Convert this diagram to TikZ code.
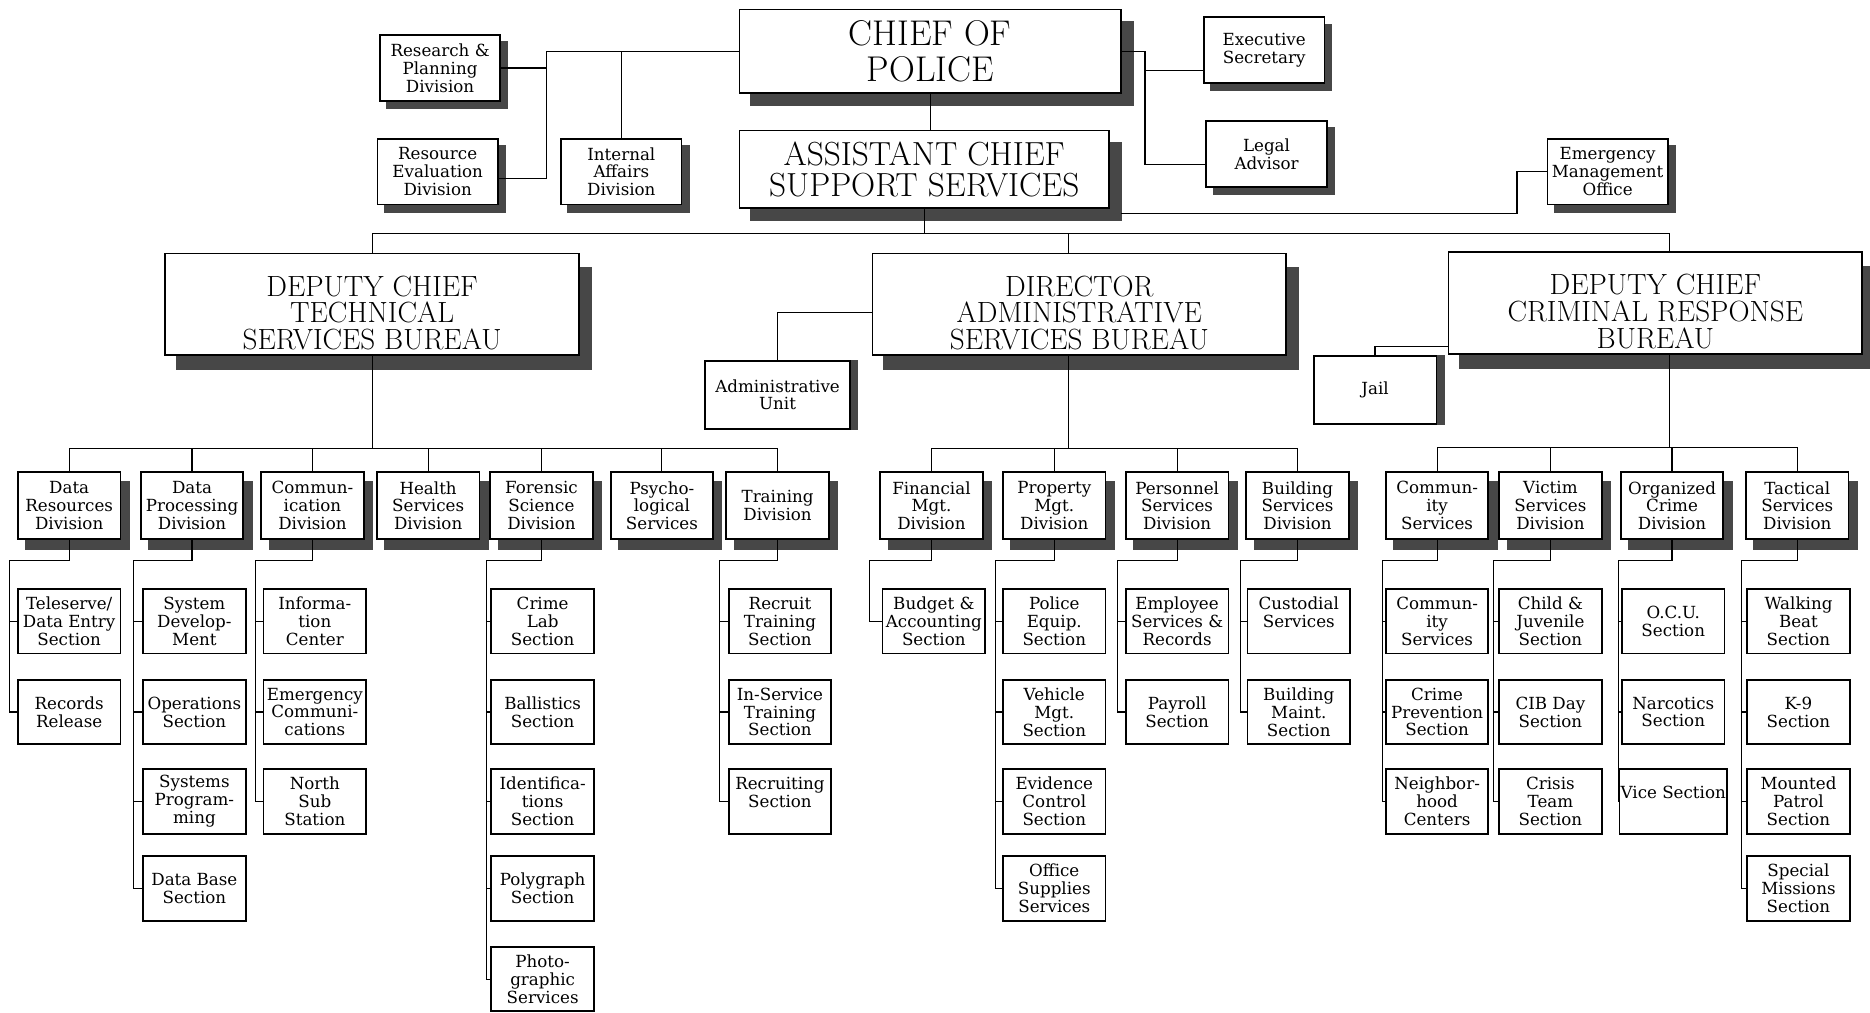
\documentclass[tikz,border=0pt]{standalone}
\usepackage{fontspec}
\usetikzlibrary{shadows}
\newfontfamily\boxfont{DejaVu Serif}
\newcommand\smalltext{\boxfont\fontsize{14}{15}\selectfont}
\definecolor{shade}{gray}{0.28}
\tikzset{box/.style={draw,line width=1.5pt,fill=white,align=center,inner sep=1pt},
  dropshade/.style 2 args={general shadow={fill=shade,draw=shade,shadow xshift=#1,shadow yshift=#2}}}
\tikzstyle{chief}=[box,dropshade={10pt}{-10pt},font=\fontsize{30}{30}\selectfont,minimum width=320pt,minimum height=70pt]
\tikzstyle{asst}=[box,dropshade={10pt}{-10pt},font=\fontsize{28}{26}\selectfont,minimum width=310pt,minimum height=65pt]
\tikzstyle{bureau}=[box,dropshade={10pt}{-12pt},font=\fontsize{24.5}{22.5}\selectfont,minimum width=347pt,minimum height=85pt]
\tikzstyle{office}=[box,dropshade={6pt}{-6pt},font=\smalltext,minimum width=101pt,minimum height=55pt]
\tikzstyle{side unit}=[box,dropshade={6pt}{0pt},font=\smalltext,minimum height=57pt]
\tikzstyle{division}=[box,dropshade={7pt}{-8pt},font=\smalltext,minimum width=86pt,minimum height=56pt]
\tikzstyle{section}=[box,font=\smalltext,minimum width=86pt,minimum height=54pt]
\tikzstyle{edge}=[draw,line width=1pt,-]
\newcommand\lowtext{\rule{0pt}{32pt}}
\begin{document}
\begin{tikzpicture}[x=1pt,y=-1pt]
    \useasboundingbox (0,0) rectangle (1568,849);

    % chief and staff
    \node[chief] (chief) at (780,43) {CHIEF OF\\POLICE};
    \node[asst] (asst) at (775,142) {ASSISTANT CHIEF\\SUPPORT SERVICES};
    \foreach \pos/\name/\txt in {{(369,57)/research/{Research \&\\Planning\\Division}},
                                 {(367,144)/reseval/{Resource\\Evaluation\\Division}},
                                 {(521,144)/intaff/{Internal\\Affairs\\Division}},
                                 {(1060,42)/execsec/{Executive\\Secretary}},
                                 {(1062,129)/legal/{Legal\\Advisor}},
                                 {(1348,144)/emerg/{Emergency\\Management\\Office}}}
        \node[office] (\name) at \pos {\txt};

    % bureaus
    \foreach \pos/\name/\txt in {{(312,255)/tech/{\lowtext DEPUTY CHIEF\\TECHNICAL\\SERVICES BUREAU}},
                                 {(905,255)/admin/{\lowtext DIRECTOR\\ADMINISTRATIVE\\SERVICES BUREAU}},
                                 {(1388,254)/crim/{\lowtext DEPUTY CHIEF\\CRIMINAL RESPONSE\\BUREAU}}}
        \node[bureau] (\name) at \pos {\txt};
    \node[side unit,minimum width=122pt] (adunit) at (652,331) {Administrative\\Unit};
    \node[side unit,minimum width=103pt] (jail) at (1153,327) {Jail};

    % divisions
    \foreach \pos/\name/\txt in {{(58,424)/datres/{Data\\Resources\\Division}},
                                 {(161,424)/datproc/{Data\\Processing\\Division}},
                                 {(262,424)/comm/{Commun-\\ication\\Division}},
                                 {(359,424)/health/{Health\\Services\\Division}},
                                 {(454,424)/foren/{Forensic\\Science\\Division}},
                                 {(555,424)/psych/{Psycho-\\logical\\Services}},
                                 {(652,424)/train/{Training\\Division}},
                                 {(781,424)/fin/{Financial\\Mgt.\\Division}},
                                 {(884,424)/prop/{Property\\Mgt.\\Division}},
                                 {(987,424)/pers/{Personnel\\Services\\Division}},
                                 {(1088,424)/bldg/{Building\\Services\\Division}},
                                 {(1205,424)/commsv/{Commun-\\ity\\Services}},
                                 {(1300,424)/victim/{Victim\\Services\\Division}},
                                 {(1402,424)/orgcr/{Organized\\Crime\\Division}},
                                 {(1507,424)/tact/{Tactical\\Services\\Division}}}
        \node[division] (\name) at \pos {\txt};

    % sections
    \foreach \pos/\name/\txt in {{(58,521)/tele/{Teleserve/\\Data Entry\\Section}},
                                 {(58,597)/recrel/{Records\\Release}},
                                 {(163,521)/sysdev/{System\\Develop-\\Ment}},
                                 {(163,597)/oper/{Operations\\Section}},
                                 {(163,672)/sysprog/{Systems\\Program-\\ming}},
                                 {(163,745)/database/{Data Base\\Section}},
                                 {(264,521)/infocen/{Informa-\\tion\\Center}},
                                 {(264,597)/emcomm/{Emergency\\Communi-\\cations}},
                                 {(264,672)/northsub/{North\\Sub\\Station}},
                                 {(455,521)/crimelab/{Crime\\Lab\\Section}},
                                 {(455,597)/ballist/{Ballistics\\Section}},
                                 {(455,672)/ident/{Identifica-\\tions\\Section}},
                                 {(455,745)/polygr/{Polygraph\\Section}},
                                 {(455,821)/photo/{Photo-\\graphic\\Services}},
                                 {(654,521)/recruit/{Recruit\\Training\\Section}},
                                 {(654,597)/inserv/{In-Service\\Training\\Section}},
                                 {(654,672)/recruiting/{Recruiting\\Section\\\mbox{}}}}
        \node[section] (\name) at \pos {\txt};
    \foreach \pos/\name/\txt in {{(783,521)/budget/{Budget \&\\Accounting\\Section}},
                                 {(884,521)/poleq/{Police\\Equip.\\Section}},
                                 {(884,597)/vehic/{Vehicle\\Mgt.\\Section}},
                                 {(884,672)/evid/{Evidence\\Control\\Section}},
                                 {(884,745)/supplies/{Office\\Supplies\\Services}},
                                 {(987,521)/employ/{Employee\\Services \&\\Records}},
                                 {(987,597)/payroll/{Payroll\\Section}},
                                 {(1089,521)/custod/{Custodial\\Services\\\mbox{}}},
                                 {(1089,597)/bldgm/{Building\\Maint.\\Section}}}
        \node[section] (\name) at \pos {\txt};
    \foreach \pos/\name/\txt in {{(1205,521)/commsec/{Commun-\\ity\\Services}},
                                 {(1205,597)/crimprev/{Crime\\Prevention\\Section}},
                                 {(1205,672)/neigh/{Neighbor-\\hood\\Centers}},
                                 {(1300,521)/childjuv/{Child \&\\Juvenile\\Section}},
                                 {(1300,597)/cibday/{CIB Day\\Section}},
                                 {(1300,672)/crisis/{Crisis\\Team\\Section}},
                                 {(1403,521)/ocu/{O.C.U.\\Section}},
                                 {(1403,597)/narc/{Narcotics\\Section}},
                                 {(1403,672)/vice/{Vice Section\\\mbox{}}},
                                 {(1508,521)/walk/{Walking\\Beat\\Section}},
                                 {(1508,597)/knine/{K-9\\Section}},
                                 {(1508,672)/mounted/{Mounted\\Patrol\\Section}},
                                 {(1508,745)/special/{Special\\Missions\\Section}}}
        \node[section] (\name) at \pos {\txt};

    % staff lines
    \coordinate (staffleft) at (458,43);
    \coordinate (staffright) at (960,43);
    \path[edge] (chief.west) -- (staffleft) |- ([yshift=-6pt]reseval.east);
    \path[edge] (research.east) -- (research.east -| staffleft);
    \path[edge] (intaff.north) -- (intaff.north |- chief.west);
    \path[edge] (chief.east) -- (staffright) |- ([yshift=-9pt]legal.west);
    \path[edge] ([yshift=-17pt]execsec.west) -- ([yshift=-17pt]execsec.west -| staffright);
    \path[edge] (chief.south) -- (chief.south |- asst.north);
    \coordinate (asstout) at (940,179);
    \coordinate (emergjoin) at (1272,179);
    \path[edge] (asstout) -- (emergjoin) |- (emerg.west);

    % bureau lines
    \coordinate (mainbus) at (312,196);
    \path[edge] (tech.north) -- (mainbus) -| ([xshift=12pt]crim.north);
    \path[edge] ([xshift=-9pt]admin.north) -- ([xshift=-9pt]admin.north |- mainbus);
    \path[edge] (asst.south) -- (asst.south |- mainbus);
    \path[edge] ([yshift=-7pt]admin.west) -| (adunit.north);
    \path[edge] ([yshift=7pt]crim.south west) -| (jail.north);

    % division lines
    \foreach \boss/\shift/\divs in {tech/0/{datres,datproc,comm,health,foren,psych,train},
                                    admin/-9/{fin,prop,pers,bldg},
                                    crim/12/{commsv,victim,orgcr,tact}}
        \foreach \d in \divs
            \path[edge] ([xshift=\shift pt]\boss.south) -- ++(0,78) -| (\d.north);

    % section lines
    \foreach \d/\rail/\kids in {datres/8/{tele,recrel}, datproc/112/{sysdev,oper,sysprog,database},
                                comm/214/{infocen,emcomm,northsub},
                                foren/408/{crimelab,ballist,ident,polygr,photo},
                                train/603/{recruit,inserv,recruiting}, fin/729/{budget},
                                prop/835/{poleq,vehic,evid,supplies}, pers/937/{employ,payroll},
                                bldg/1040/{custod,bldgm}, commsv/1159/{commsec,crimprev,neigh},
                                victim/1252/{childjuv,cibday,crisis}, orgcr/1357/{ocu,narc,vice},
                                tact/1460/{walk,knine,mounted,special}}
        \foreach \k in \kids
            \path[edge] (\d.south) |- (\rail,470) |- (\k.west);

\end{tikzpicture}
\end{document}
